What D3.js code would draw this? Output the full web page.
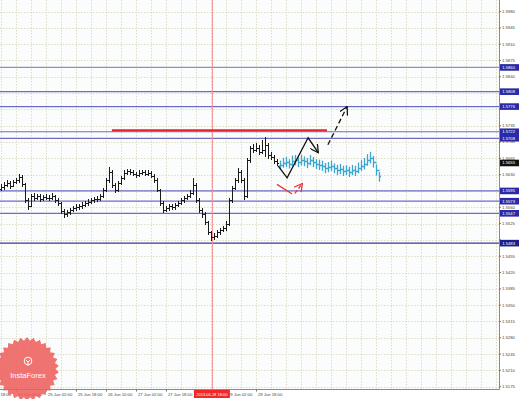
<!DOCTYPE html>
<html><head><meta charset="utf-8">
<script src="https://cdn.jsdelivr.net/npm/d3@7"></script>
<style>
body{margin:0;background:#fff}
svg{display:block}
text{font-family:"Liberation Sans",Arial,sans-serif}
</style>
</head><body>
<svg id="c" width="519" height="399"></svg>
<script>
// ---------- DATA ----------
const priceTicks = [1.5980,1.5945,1.5910,1.5875,1.5840,1.5805,1.5770,1.5735,1.5700,1.5665,1.5630,1.5595,1.5560,1.5525,1.5490,1.5455,1.5420,1.5385,1.5350,1.5315,1.5280,1.5245,1.5210,1.5175];
const timeLabelIdx = [-1.7,5,15,25,35,45,55,75,85];
const timeLabels = ["18:00","24 Jun 10:00","25 Jun 02:00","25 Jun 18:00","26 Jun 10:00","27 Jun 02:00","27 Jun 18:00","29 Jun 02:00","29 Jun 18:00"];

const opens = [1.5600,1.5603,1.5608,1.5612,1.5606,1.5614,1.5618,1.5625,1.5610,1.5575,
1.5563,1.5584,1.5580,1.5584,1.5578,1.5582,1.5580,1.5580,1.5584,1.5575,
1.5569,1.5552,1.5545,1.5550,1.5554,1.5558,1.5560,1.5563,1.5565,1.5569,
1.5571,1.5575,1.5578,1.5578,1.5584,1.5597,1.5618,1.5636,1.5608,1.5597,
1.5612,1.5623,1.5634,1.5638,1.5636,1.5631,1.5629,1.5634,1.5636,1.5631,
1.5634,1.5627,1.5618,1.5597,1.5569,1.5554,1.5558,1.5563,1.5560,1.5565,
1.5569,1.5575,1.5580,1.5584,1.5591,1.5608,1.5575,1.5554,1.5545,1.5528,
1.5506,1.5496,1.5498,1.5506,1.5511,1.5515,1.5524,1.5575,1.5601,1.5618,
1.5636,1.5618,1.5584,1.5661,1.5687,1.5683,1.5687,1.5679,1.5683,1.5694,
1.5672,1.5668,1.5659];
const highs = [1.5610,1.5614,1.5618,1.5617,1.5619,1.5623,1.5632,1.5630,1.5613,1.5580,
1.5588,1.5590,1.5589,1.5588,1.5587,1.5588,1.5586,1.5590,1.5587,1.5579,
1.5572,1.5556,1.5555,1.5559,1.5563,1.5566,1.5568,1.5571,1.5574,1.5577,
1.5580,1.5583,1.5584,1.5589,1.5601,1.5622,1.5646,1.5640,1.5612,1.5616,
1.5628,1.5639,1.5643,1.5642,1.5640,1.5636,1.5639,1.5641,1.5640,1.5639,
1.5638,1.5631,1.5622,1.5600,1.5573,1.5563,1.5567,1.5567,1.5570,1.5574,
1.5580,1.5585,1.5589,1.5597,1.5623,1.5612,1.5579,1.5558,1.5549,1.5531,
1.5510,1.5504,1.5511,1.5516,1.5520,1.5530,1.5580,1.5606,1.5623,1.5644,
1.5640,1.5622,1.5666,1.5692,1.5696,1.5698,1.5694,1.5704,1.5711,1.5698,
1.5678,1.5672,1.5663];
const lows = [1.5594,1.5598,1.5603,1.5600,1.5603,1.5609,1.5613,1.5604,1.5570,1.5554,
1.5560,1.5574,1.5575,1.5572,1.5573,1.5575,1.5574,1.5576,1.5570,1.5563,
1.5546,1.5538,1.5540,1.5544,1.5549,1.5552,1.5555,1.5557,1.5560,1.5563,
1.5566,1.5569,1.5571,1.5573,1.5580,1.5592,1.5612,1.5602,1.5590,1.5593,
1.5608,1.5619,1.5629,1.5630,1.5626,1.5623,1.5625,1.5629,1.5626,1.5627,
1.5622,1.5613,1.5592,1.5563,1.5548,1.5549,1.5553,1.5554,1.5555,1.5560,
1.5564,1.5570,1.5575,1.5579,1.5586,1.5570,1.5548,1.5538,1.5522,1.5500,
1.5487,1.5490,1.5494,1.5501,1.5506,1.5510,1.5520,1.5570,1.5596,1.5612,
1.5612,1.5575,1.5580,1.5656,1.5676,1.5678,1.5672,1.5675,1.5668,1.5664,
1.5662,1.5653,1.5649];
const closes = [1.5603,1.5608,1.5612,1.5606,1.5614,1.5618,1.5625,1.5610,1.5575,1.5563,
1.5584,1.5580,1.5584,1.5578,1.5582,1.5580,1.5580,1.5584,1.5575,1.5569,
1.5552,1.5545,1.5550,1.5554,1.5558,1.5560,1.5563,1.5565,1.5569,1.5571,
1.5575,1.5578,1.5578,1.5584,1.5597,1.5618,1.5636,1.5608,1.5597,1.5612,
1.5623,1.5634,1.5638,1.5636,1.5631,1.5629,1.5634,1.5636,1.5631,1.5634,
1.5627,1.5618,1.5597,1.5569,1.5554,1.5558,1.5563,1.5560,1.5565,1.5569,
1.5575,1.5580,1.5584,1.5591,1.5608,1.5575,1.5554,1.5545,1.5528,1.5506,
1.5496,1.5498,1.5506,1.5511,1.5515,1.5524,1.5575,1.5601,1.5618,1.5636,
1.5618,1.5584,1.5661,1.5687,1.5683,1.5687,1.5679,1.5683,1.5694,1.5672,
1.5668,1.5659,1.5655];

// forecast (cyan) bars, starting right after the last real bar
const forecastOpens  = [1.5648,1.5651,1.5655,1.5657,1.5653,1.5659,1.5661,1.5657,1.5661,1.5659,1.5655,1.5661,1.5657,1.5653,1.5651,1.5649,1.5644,1.5646,1.5649,1.5644,1.5640,1.5642,1.5638,1.5640,1.5636,1.5640,1.5638,1.5644,1.5649,1.5653,1.5661,1.5666,1.5657,1.5640];
const forecastHighs  = [1.5660,1.5666,1.5668,1.5663,1.5671,1.5672,1.5667,1.5673,1.5669,1.5666,1.5672,1.5668,1.5663,1.5662,1.5660,1.5655,1.5657,1.5660,1.5654,1.5651,1.5653,1.5649,1.5650,1.5647,1.5651,1.5649,1.5656,1.5661,1.5666,1.5674,1.5679,1.5670,1.5652,1.5636];
const forecastLows   = [1.5642,1.5645,1.5646,1.5643,1.5648,1.5650,1.5646,1.5650,1.5648,1.5644,1.5650,1.5646,1.5642,1.5640,1.5638,1.5633,1.5635,1.5638,1.5633,1.5629,1.5631,1.5627,1.5629,1.5625,1.5629,1.5627,1.5633,1.5638,1.5641,1.5649,1.5654,1.5645,1.5628,1.5615];
const forecastCloses = [1.5651,1.5655,1.5657,1.5653,1.5659,1.5661,1.5657,1.5661,1.5659,1.5655,1.5661,1.5657,1.5653,1.5651,1.5649,1.5644,1.5646,1.5649,1.5644,1.5640,1.5642,1.5638,1.5640,1.5636,1.5640,1.5638,1.5644,1.5649,1.5653,1.5661,1.5666,1.5657,1.5640,1.5627];

// horizontal levels
const levels = [1.5860,1.5808,1.5776,1.5722,1.5708,1.5595,1.5573,1.5547,1.5483];
const currentPrice = 1.5655;
const vlineIdx = 70.3;
const vlineLabel = "2013.06.28 18:00";

// drawn annotations (bar index, price)
const redLevel = [[36.8,1.5725],[108.5,1.5725]];
const zigzag = [[92.2,1.5649],[95.2,1.5623],[102.2,1.5709],[105.6,1.5677]];
const dashedArrow = [[108.8,1.5694],[115.2,1.5776]];
const redDown = [[91.8,1.5609],[96.8,1.5589]];
const redUp = [[97.8,1.5590],[100.3,1.5611]];

// ---------- SCALES ----------
const svg = d3.select("#c");
const W = 519, H = 399, plotR = 499, plotB = 389;
const y = d3.scaleLinear().domain([1.5175,1.5980]).range([386.7,11.5]);
const x = d3.scaleLinear().domain([0,92]).range([1.5,277.5]);
const fmt = d3.format(".4f");

svg.append("rect").attr("width",W).attr("height",H).attr("fill","#ffffff");
svg.append("rect").attr("width",plotR).attr("height",plotB).attr("fill","#fbfcfc");

const defs = svg.append("defs");
function marker(id,color){
  defs.append("marker").attr("id",id).attr("viewBox","0 0 10 10")
    .attr("refX",9).attr("refY",5).attr("markerWidth",9).attr("markerHeight",9)
    .attr("markerUnits","userSpaceOnUse").attr("orient","auto")
    .append("path").attr("d","M0,0 L9,5 L0,10").attr("fill","none")
    .attr("stroke",color).attr("stroke-width",1.4);
}
marker("ab","#111"); marker("ar","#e8333a");

// ---------- GRID ----------
const grid = svg.append("g").attr("stroke","#d8d3bd").attr("stroke-width",0.8).attr("stroke-dasharray","1.5,1.5");
grid.selectAll("line.h").data(priceTicks).join("line")
  .attr("x1",0).attr("x2",plotR).attr("y1",d=>Math.round(y(d))+0.5).attr("y2",d=>Math.round(y(d))+0.5);
grid.selectAll("line.v").data(d3.range(0,166,5)).join("line")
  .attr("y1",0).attr("y2",plotB).attr("x1",d=>x(d)).attr("x2",d=>x(d));

// ---------- LEVELS ----------
svg.append("g").selectAll("line").data(levels).join("line")
  .attr("x1",0).attr("x2",plotR)
  .attr("y1",d=>y(d)).attr("y2",d=>y(d))
  .attr("stroke",(d,i)=> i===0 ? "#8c92b8" : (i===levels.length-1 ? "#3a3a9a" : "#6c6cc6"))
  .attr("stroke-width",1.2);

// ---------- VERTICAL RED LINE ----------
svg.append("line").attr("x1",x(vlineIdx)).attr("x2",x(vlineIdx)).attr("y1",0).attr("y2",plotB)
  .attr("stroke","#f49090").attr("stroke-width",1);

// ---------- OHLC BARS ----------
function ohlc(g, o, h, l, c, startIdx){
  o.forEach((ov,i)=>{
    const cx = x(startIdx+i);
    g.append("line").attr("x1",cx).attr("x2",cx).attr("y1",y(h[i])).attr("y2",y(l[i]));
    g.append("line").attr("x1",cx-1.5).attr("x2",cx).attr("y1",Math.round(y(ov))+0.5).attr("y2",Math.round(y(ov))+0.5);
    g.append("line").attr("x1",cx).attr("x2",cx+1.5).attr("y1",Math.round(y(c[i]))+0.5).attr("y2",Math.round(y(c[i]))+0.5);
  });
}
ohlc(svg.append("g").attr("stroke","#1a1a1a").attr("stroke-width",1).attr("shape-rendering","crispEdges"),
     opens, highs, lows, closes, 0);
ohlc(svg.append("g").attr("stroke","#3ca6cc").attr("stroke-width",1.3),
     forecastOpens, forecastHighs, forecastLows, forecastCloses, opens.length);

// ---------- ANNOTATIONS ----------
const line = d3.line().x(d=>x(d[0])).y(d=>y(d[1]));
svg.append("path").attr("d",line(redLevel)).attr("stroke","#e3262e").attr("stroke-width",2.2).attr("fill","none");
svg.append("path").attr("d",line(zigzag)).attr("stroke","#111").attr("stroke-width",1.3).attr("fill","none").attr("marker-end","url(#ab)");
svg.append("path").attr("d",line(dashedArrow)).attr("stroke","#111").attr("stroke-width",1.3).attr("stroke-dasharray","5,3").attr("fill","none").attr("marker-end","url(#ab)");
svg.append("path").attr("d",line(redDown)).attr("stroke","#e8333a").attr("stroke-width",1.3).attr("fill","none");
svg.append("path").attr("d",line(redUp)).attr("stroke","#e8333a").attr("stroke-width",1.3).attr("stroke-dasharray","4,2").attr("fill","none").attr("marker-end","url(#ar)");

// ---------- AXES ----------
svg.append("line").attr("x1",plotR+0.5).attr("x2",plotR+0.5).attr("y1",0).attr("y2",plotB+0.5).attr("stroke","#8a8a8a");
svg.append("line").attr("x1",0).attr("x2",plotR+0.5).attr("y1",plotB+0.5).attr("y2",plotB+0.5).attr("stroke","#8a8a8a");

const boxed = levels.concat([currentPrice]);
const visibleTicks = priceTicks.filter(t => !boxed.some(b => Math.abs(y(b)-y(t)) < 3.6));
const yAxis = svg.append("g");
yAxis.selectAll("line").data(priceTicks).join("line")
  .attr("x1",plotR).attr("x2",plotR+2).attr("y1",d=>y(d)).attr("y2",d=>y(d)).attr("stroke","#777");
yAxis.selectAll("text").data(visibleTicks).join("text")
  .attr("x",502).attr("y",d=>y(d)).attr("dy","0.35em")
  .attr("font-size",4.2).attr("fill","#444").text(d=>fmt(d));

const xAxis = svg.append("g");
xAxis.selectAll("line").data(timeLabelIdx).join("line")
  .attr("x1",d=>x(d)).attr("x2",d=>x(d)).attr("y1",plotB).attr("y2",plotB+2.5).attr("stroke","#777");
xAxis.selectAll("text").data(timeLabelIdx).join("text")
  .attr("x",d=>Math.max(0.5,x(d)+1.5)).attr("y",395.5)
  .attr("font-size",4.2).attr("fill","#444").text((d,i)=>timeLabels[i]);

// level boxes
const boxes = svg.append("g");
levels.forEach((v,i)=>{
  const g = boxes.append("g").attr("transform",`translate(500,${y(v)})`);
  g.append("rect").attr("x",0).attr("y",-3.3).attr("width",19).attr("height",6.6)
    .attr("fill", i===levels.length-1 ? "#1c1c8a" : "#2a2aa6");
  g.append("text").attr("x",2.2).attr("dy","0.35em").attr("font-size",4.2).attr("fill","#fff").text(fmt(v));
});
{
  const g = boxes.append("g").attr("transform",`translate(500,${y(currentPrice)})`);
  g.append("rect").attr("x",0).attr("y",-3.3).attr("width",19).attr("height",6.6).attr("fill","#111");
  g.append("text").attr("x",2.2).attr("dy","0.35em").attr("font-size",4.2).attr("fill","#fff").text(fmt(currentPrice));
}
// vertical line date box
{
  const cx = x(vlineIdx);
  svg.append("rect").attr("x",cx-18.5).attr("y",plotB+1).attr("width",36).attr("height",8).attr("fill","#f02828");
  svg.append("text").attr("x",cx-0.5).attr("y",395.6).attr("text-anchor","middle")
    .attr("font-size",4).attr("fill","#fff").text(vlineLabel);
}

// ---------- LOGO ----------
{
  const cx = 27, cy = 369, n = 30, rO = 32, rI = 28.5;
  const pts = d3.range(n*2).map(k=>{
    const r = k%2===0 ? rO : rI, a = Math.PI*k/n - Math.PI/2;
    return [cx + r*Math.cos(a), cy + r*Math.sin(a)];
  });
  const logo = svg.append("g").attr("opacity",0.88);
  logo.append("polygon").attr("points",pts.map(p=>p.join(",")).join(" ")).attr("fill","#ee615d");
  logo.append("circle").attr("cx",cx+1).attr("cy",cy-8).attr("r",3.8).attr("fill","none").attr("stroke","#fff").attr("stroke-width",1);
  logo.append("path").attr("d",`M${cx+1},${cy-7} L${cx+1},${cy-3} M${cx-1},${cy-9} L${cx+1},${cy-7} L${cx+3},${cy-9}`)
    .attr("stroke","#fff").attr("stroke-width",1).attr("fill","none");
  logo.append("text").attr("x",cx+1).attr("y",cy+9).attr("text-anchor","middle")
    .attr("font-size",7.5).attr("fill","#fff").text("InstaForex");
}
</script>
</body></html>
